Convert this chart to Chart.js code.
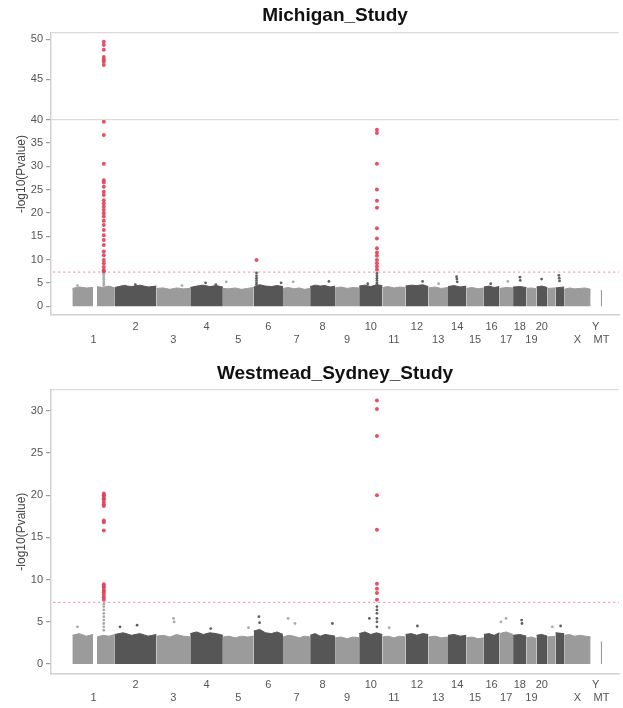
<!DOCTYPE html>
<html>
<head>
<meta charset="utf-8">
<script src="https://cdn.jsdelivr.net/npm/chart.js@4.4.1/dist/chart.umd.min.js"></script>
<style>
  html, body { margin: 0; padding: 0; background: #fff; }
  .box { position: absolute; left: 0; width: 623px; height: 354px; }
  #top { top: 0; }
  #bottom { top: 354px; }
</style>
</head>
<body>
<div class="box" id="top"><canvas id="michigan"></canvas></div>
<div class="box" id="bottom"><canvas id="westmead"></canvas></div>
<script>
// chromosomes along the x axis (lengths in Mb)
const chromosomes = ['1','2','3','4','5','6','7','8','9','10','11','12','13','14','15','16','17','18','19','20','21','22','X','Y','MT'];
const chrLengthMb = [249,243,198,191,181,171,159,146,141,136,135,134,115,107,103,90,81,78,59,63,48,51,155,59,8];
const centromereGapMb = { '1': [121, 144] };

// tick labels: two rows
const upperRowLabels = ['2','4','6','8','10','12','14','16','18','20','Y'];
const lowerRowLabels = ['1','3','5','7','9','11','13','15','17','19','X','MT'];

const gwsThreshold = 7.3;

// ---------- Michigan_Study ----------
// upper edge of the dense SNP band along each chromosome
const miBulkTop = [
  [3.8, 4.1, 3.9, 4.0, 4.2, 4.0, 4.3, 3.9],
  [4.0, 4.4, 4.2, 4.5, 4.1, 4.3],
  [3.8, 3.9, 3.6, 3.9, 3.7, 3.8],
  [4.0, 4.3, 4.5, 4.2, 4.4, 4.1],
  [3.8, 3.7, 3.9, 3.6, 3.8, 4.0],
  [4.1, 4.6, 4.3, 4.2, 4.4, 4.2],
  [3.8, 4.0, 3.7, 3.9, 3.6, 3.8],
  [4.2, 4.5, 4.3, 4.4, 4.1, 4.3],
  [3.9, 4.1, 3.8, 4.0, 3.9],
  [4.3, 4.5, 4.2, 4.6, 4.4],
  [4.0, 4.2, 3.9, 4.1, 4.0],
  [4.3, 4.5, 4.4, 4.6, 4.2],
  [3.9, 4.1, 3.8, 4.0],
  [4.2, 4.4, 4.1, 4.3],
  [3.8, 4.0, 3.7, 3.9],
  [4.1, 4.3, 4.0, 4.2],
  [3.8, 4.0, 3.9],
  [4.1, 4.2, 4.0],
  [3.8, 3.9, 3.7],
  [4.1, 4.3, 4.0],
  [3.8, 3.9],
  [3.9, 4.1],
  [3.6, 3.9, 3.7, 3.8, 3.9, 3.6],
  [],
  [3.3, 3.3]
];
const miPeakChr = ['1', '6', '10'];
const miPeakPosMb = [184, 16, 104];
const miPeakLogP = [
  [49.7, 49.3, 48.7, 47.8, 47.5, 47.2, 46.8, 39.5, 36.7, 30.5, 27.0, 26.5, 25.6, 24.5, 23.8, 22.7, 22.0, 21.3,
   20.6, 19.9, 19.2, 18.3, 17.4, 16.3, 15.2, 14.2, 13.1, 11.7, 10.9, 9.9, 9.2, 8.4, 7.7, 7.4,
   7.0, 6.6, 6.1, 5.7, 5.2, 4.8, 4.4],
  [9.9, 7.1, 6.5, 6.0, 5.5, 5.0, 4.6],
  [37.8, 37.1, 30.5, 25.0, 22.6, 21.1, 16.7, 14.5, 12.4, 11.5, 10.8, 9.9, 9.2, 8.5, 7.8,
   7.0, 6.5, 6.0, 5.5, 5.0, 4.6]
];
const miOutChr   = ['1', '2', '2', '3', '4', '4', '5', '6', '7', '8', '10', '12', '13', '14', '14', '14', '16', '17', '18', '18', '20', '22', '22', '22'];
const miOutPosMb = [30, 60, 120, 150, 90, 150, 20, 160, 60, 110, 50, 100, 60, 50, 52, 54, 40, 50, 40, 42, 30, 20, 22, 24];
const miOutLogP  = [4.4, 4.3, 4.6, 4.4, 5.0, 4.6, 5.2, 5.0, 5.2, 5.3, 4.8, 5.3, 4.8, 6.3, 5.8, 5.2, 4.8, 5.3, 6.2, 5.5, 5.8, 6.6, 6.0, 5.4];
const miLowerTicks = [0, 5, 10, 15, 20, 25, 30, 35, 40];
const miUpperTicks = [45, 50];

// ---------- Westmead_Sydney_Study ----------
const wsBulkTop = [
  [3.4, 3.6, 3.3, 3.5, 3.2, 3.4, 3.3, 3.5],
  [3.5, 3.7, 3.4, 3.6, 3.3, 3.5],
  [3.3, 3.4, 3.2, 3.5, 3.3, 3.2],
  [3.6, 3.8, 3.5, 3.7, 3.6, 3.4],
  [3.2, 3.3, 3.1, 3.3, 3.2, 3.3],
  [3.9, 4.1, 3.7, 3.6, 3.8, 3.5],
  [3.2, 3.4, 3.3, 3.1, 3.3, 3.2],
  [3.4, 3.6, 3.3, 3.5, 3.4, 3.3],
  [3.1, 3.2, 3.0, 3.2, 3.1],
  [3.6, 3.8, 3.5, 3.7, 3.5],
  [3.2, 3.3, 3.1, 3.3, 3.2],
  [3.5, 3.6, 3.4, 3.6, 3.5],
  [3.2, 3.3, 3.1, 3.2],
  [3.4, 3.5, 3.3, 3.4],
  [3.1, 3.2, 3.0, 3.1],
  [3.5, 3.6, 3.4, 3.7],
  [3.6, 3.8, 3.5],
  [3.4, 3.5, 3.3],
  [3.1, 3.2, 3.0],
  [3.4, 3.5, 3.3],
  [3.2, 3.3],
  [3.7, 3.6],
  [3.4, 3.5, 3.3, 3.4, 3.3, 3.2],
  [],
  [2.6, 2.6]
];
const wsPeakChr = ['1', '10'];
const wsPeakPosMb = [184, 104];
const wsPeakLogP = [
  [20.2, 20.0, 19.9, 19.6, 19.5, 19.2, 18.9, 18.7, 17.0, 16.8, 15.8, 9.45, 9.2, 9.0, 8.7, 8.5, 8.2, 7.9, 7.6,
   7.1, 6.8, 6.4, 6.0, 5.6, 5.2, 4.8, 4.4, 4.0],
  [31.2, 30.2, 27.0, 20.0, 15.9, 9.5, 8.9, 8.4, 7.6, 6.8, 6.4, 6.0, 5.4, 5.0, 4.4]
];
const wsOutChr   = ['1', '2', '2', '3', '3', '4', '5', '6', '6', '7', '7', '8', '10', '11', '12', '17', '17', '18', '18', '21', '22'];
const wsOutPosMb = [30, 30, 130, 100, 104, 120, 150, 30, 34, 30, 70, 130, 60, 40, 70, 10, 40, 50, 52, 30, 30];
const wsOutLogP  = [4.4, 4.4, 4.6, 5.4, 5.0, 4.2, 4.3, 5.6, 4.9, 5.4, 4.8, 4.8, 5.4, 4.3, 4.5, 5.0, 5.4, 5.2, 4.8, 4.4, 4.5];
const wsTicks = [0, 5, 10, 15, 20, 25, 30];

// ---------- helpers ----------
const LIGHT = '#9b9b9b', DARK = '#565656', RED = 'rgba(228,62,88,0.9)';
const FONT = '"Liberation Sans", Arial, sans-serif';
const chrStart = [];
let acc = 0;
chrLengthMb.forEach(l => { chrStart.push(acc); acc += l; });
const chrCenter = chrStart.map((s, i) => s + chrLengthMb[i] / 2);
const chrColor = i => (i % 2 === 0 ? LIGHT : DARK);
const cumPos = (chr, pos) => chrStart[chromosomes.indexOf(chr)] + pos;

function bulkPoints(i, tops) {
  const s = chrStart[i], len = chrLengthMb[i];
  const gap = centromereGapMb[chromosomes[i]];
  if (!tops.length) return [];
  if (!gap) return tops.map((h, k) => ({ x: s + len * k / (tops.length - 1), y: h }));
  const half = Math.ceil(tops.length / 2);
  const p = tops.slice(0, half), q = tops.slice(half);
  const pts = p.map((h, k) => ({ x: s + gap[0] * k / (p.length - 1), y: h }));
  pts.push({ x: s + (gap[0] + gap[1]) / 2, y: null });
  q.forEach((h, k) => pts.push({ x: s + gap[1] + (len - gap[1]) * k / (q.length - 1), y: h }));
  return pts;
}

function buildDatasets(bulk, peakChr, peakPos, peakLogP, outChr, outPos, outLogP, breakAt) {
  const sets = [];
  const redLow = [], redHigh = [], greyL = [], greyD = [];
  peakChr.forEach((c, k) => {
    const x = cumPos(c, peakPos[k]);
    const ci = chromosomes.indexOf(c);
    peakLogP[k].forEach(v => {
      if (v > gwsThreshold) (breakAt && v > breakAt ? redHigh : redLow).push({ x, y: v });
      else (ci % 2 === 0 ? greyL : greyD).push({ x, y: v });
    });
  });
  outChr.forEach((c, k) => {
    const ci = chromosomes.indexOf(c);
    (ci % 2 === 0 ? greyL : greyD).push({ x: cumPos(c, outPos[k]), y: outLogP[k] });
  });
  sets.push({ type: 'scatter', data: redLow, backgroundColor: RED, pointRadius: 2, borderWidth: 0, yAxisID: 'y', order: 0 });
  if (breakAt) sets.push({ type: 'scatter', data: redHigh, backgroundColor: RED, pointRadius: 2, borderWidth: 0, yAxisID: 'yTop', order: 0 });
  sets.push({ type: 'scatter', data: greyL, backgroundColor: '#aaaaaa', pointRadius: 1.4, borderWidth: 0, yAxisID: 'y', order: 1 });
  sets.push({ type: 'scatter', data: greyD, backgroundColor: '#606060', pointRadius: 1.4, borderWidth: 0, yAxisID: 'y', order: 1 });
  sets.push({
    type: 'line', data: [{ x: -200, y: gwsThreshold }, { x: 3300, y: gwsThreshold }],
    borderColor: 'rgba(240,90,110,0.75)', borderWidth: 1, borderDash: [2, 3], pointRadius: 0, yAxisID: 'y', order: 2
  });
  bulk.forEach((tops, i) => {
    sets.push({
      type: 'line', data: bulkPoints(i, tops), borderColor: chrColor(i), backgroundColor: chrColor(i),
      borderWidth: 1, fill: 'origin', pointRadius: 0, tension: 0, spanGaps: false, yAxisID: 'y', order: 3
    });
  });
  return sets;
}

const yTitle = {
  id: 'yTitle',
  afterDraw(chart) {
    const { ctx, chartArea } = chart;
    ctx.save();
    ctx.translate(22, (chartArea.top + chartArea.bottom) / 2);
    ctx.rotate(-Math.PI / 2);
    ctx.font = '12px ' + FONT;
    ctx.fillStyle = '#444';
    ctx.textAlign = 'center';
    ctx.textBaseline = 'middle';
    ctx.fillText('-log10(Pvalue)', 0, 0);
    ctx.restore();
  }
};

function xScale(height) {
  return {
    type: 'linear', min: -125, max: 3200,
    afterBuildTicks: s => { s.ticks = chrCenter.map(v => ({ value: v })); },
    afterFit: s => { s.height = height; },
    ticks: {
      autoSkip: false, maxRotation: 0, minRotation: 0, padding: 5, color: '#555', font: { size: 11, family: FONT },
      callback: (v, idx) => {
        const name = chromosomes[idx];
        if (upperRowLabels.includes(name)) return [name];
        if (lowerRowLabels.includes(name)) return ['', name];
        return '';
      }
    },
    grid: { display: false, drawTicks: false },
    border: { display: true, color: '#d2d2d2', width: 1.5 }
  };
}

// edge: value where the top border of the plot is drawn (no label), lineAt: a full-width line
function yScale(min, max, ticks, lineAt, edge, extra) {
  const all = edge ? ticks.concat([edge]) : ticks;
  return Object.assign({
    type: 'linear', position: 'left', min, max,
    afterBuildTicks: s => { s.ticks = all.map(v => ({ value: v })); },
    afterFit: s => { s.width = 51; },
    ticks: {
      autoSkip: false, padding: 3, color: '#555', font: { size: 11, family: FONT },
      callback: v => (v === edge ? '' : String(v))
    },
    grid: {
      drawOnChartArea: true, tickLength: 5, lineWidth: 1.2,
      color: c => (c.tick && (c.tick.value === edge || c.tick.value === lineAt) ? '#dadada' : 'rgba(0,0,0,0)'),
      tickColor: c => (c.tick && c.tick.value === edge ? 'rgba(0,0,0,0)' : '#999')
    },
    border: { display: true, color: '#d2d2d2', width: 1.5 }
  }, extra || {});
}

function baseOptions(title, padTop, padBottom) {
  return {
    responsive: true, maintainAspectRatio: false, animation: false,
    layout: { padding: { left: 0, right: 1, top: 0, bottom: 0 } },
    plugins: {
      legend: { display: false }, tooltip: { enabled: false },
      title: {
        display: true, text: title, fullSize: false, color: '#111',
        font: { size: 19, weight: 'bold', family: FONT, lineHeight: 1.2 },
        padding: { top: padTop, bottom: padBottom }
      }
    }
  };
}

// Michigan: broken y axis (0-40 below, 40-50 above)
const miMax = 50.8;
const miOpts = baseOptions('Michigan_Study', 4.6, 5.6);
miOpts.scales = {
  x: xScale(39),
  y: yScale(-1.9, 40, miLowerTicks, 40, null, { stack: 'mi', stackWeight: 195.7 }),
  yTop: yScale(40, miMax, miUpperTicks, null, miMax, { stack: 'mi', stackWeight: 86.6 })
};
new Chart(document.getElementById('michigan'), {
  type: 'scatter',
  data: { datasets: buildDatasets(miBulkTop, miPeakChr, miPeakPosMb, miPeakLogP, miOutChr, miOutPosMb, miOutLogP, 40) },
  options: miOpts,
  plugins: [yTitle]
});

const wsMax = 32.45;
const wsOpts = baseOptions('Westmead_Sydney_Study', 8.6, 4.6);
wsOpts.scales = {
  x: xScale(34.7),
  y: yScale(-1.1, wsMax, wsTicks, null, wsMax)
};
new Chart(document.getElementById('westmead'), {
  type: 'scatter',
  data: { datasets: buildDatasets(wsBulkTop, wsPeakChr, wsPeakPosMb, wsPeakLogP, wsOutChr, wsOutPosMb, wsOutLogP, null) },
  options: wsOpts,
  plugins: [yTitle]
});
</script>
</body>
</html>
